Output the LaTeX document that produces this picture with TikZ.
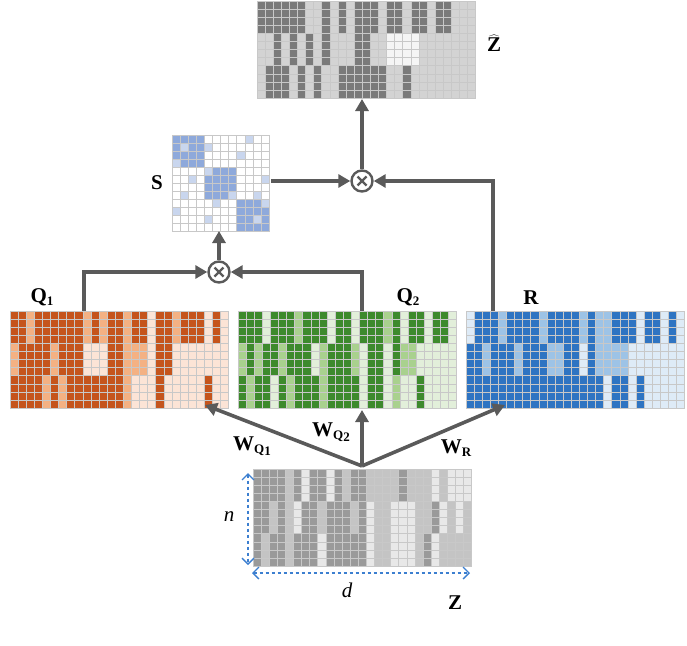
\documentclass[tikz,border=0pt]{standalone}
\usepackage{fontspec}
\setmainfont{Liberation Serif}
\usetikzlibrary{arrows.meta}
\definecolor{ag}{HTML}{5A5A5A}
\definecolor{or0}{HTML}{FCE4D6}\definecolor{or1}{HTML}{F4B183}\definecolor{or2}{HTML}{C5541C}
\definecolor{gr0}{HTML}{E2EFDA}\definecolor{gr1}{HTML}{A9D18E}\definecolor{gr2}{HTML}{3D8A2C}
\definecolor{bl0}{HTML}{DEEBF7}\definecolor{bl1}{HTML}{9DC3E6}\definecolor{bl2}{HTML}{2E74C2}
\definecolor{zh0}{HTML}{F5F5F5}\definecolor{zh1}{HTML}{D3D3D3}\definecolor{zh2}{HTML}{7A7A7A}
\definecolor{zz0}{HTML}{E8E8E8}\definecolor{zz1}{HTML}{C4C4C4}\definecolor{zz2}{HTML}{9A9A9A}
\definecolor{sb}{HTML}{8EA9DB}\definecolor{sl}{HTML}{C9D6EE}
\definecolor{dblue}{HTML}{3C7FD0}
\tikzset{cell/.style={draw={rgb,255:red,200;green,200;blue,200},line width=0.7pt},
 arr/.style={draw=ag,line width=3.6pt,-{Triangle[length=12pt,width=13pt]}},
 mul/.style={circle,draw=ag,line width=2.4pt,minimum size=21pt,inner sep=0pt},
 lab/.style={font=\bfseries\fontsize{21}{24}\selectfont},
 dim/.style={dblue,dashed,line width=1.3pt,{Straight Barb[length=6pt]}-{Straight Barb[length=6pt]}}}
\newcommand\band[4]{\foreach \v [count=\i from 0] in {#4}{\foreach \r in {0,...,3}{\draw[cell,fill=#3\v] ({#1+\i*8.1},{#2+\r*8.1}) rectangle +(8.1,8.1);}}}
\newcommand\mygrid[6]{\band{#1}{#2}{#3}{#4}\band{#1}{#2+32.4}{#3}{#5}\band{#1}{#2+64.8}{#3}{#6}}
\newcommand\xmark[1]{\draw[ag,line width=2.2pt] ([shift={(-4.5pt,-4.5pt)}]#1.center) -- ([shift={(4.5pt,4.5pt)}]#1.center) ([shift={(-4.5pt,4.5pt)}]#1.center) -- ([shift={(4.5pt,-4.5pt)}]#1.center);}
\newcommand\sub[1]{\raisebox{-0.35ex}{\fontsize{13}{14}\selectfont #1}}
\begin{document}
\begin{tikzpicture}[x=1pt,y=-1pt]
\useasboundingbox (0,0) rectangle (687,645);
% Zhat
\mygrid{257}{1}{zh}{2,2,2,2,2,2,1,1,2,1,2,1,2,2,2,1,2,2,1,2,2,1,2,2,1,1,1}{1,1,2,1,2,1,2,1,2,1,1,1,2,2,1,1,0,0,0,0,1,1,1,1,1,1,1}{1,2,2,2,1,2,1,2,1,1,2,2,2,2,2,2,1,1,2,1,1,1,1,1,1,1,1}
% Q1
\mygrid{10}{311}{or}{2,2,1,2,2,2,2,2,2,1,2,1,2,2,1,2,2,0,2,2,1,2,2,2,0,2,0}{1,2,2,2,2,1,2,2,2,0,0,0,2,2,1,1,1,0,2,2,0,0,0,0,0,0,0}{2,2,2,2,1,2,1,2,2,2,2,2,2,2,1,0,0,0,2,0,0,0,0,0,2,0,0}
% Q2
\mygrid{238}{311}{gr}{2,2,2,0,2,2,2,1,2,2,2,0,2,2,0,2,2,2,1,2,0,2,2,0,2,2,0}{1,2,1,2,2,1,2,2,2,0,1,2,2,2,1,0,2,2,0,2,1,1,0,0,0,0,0}{2,1,2,2,0,2,1,2,2,2,1,2,2,2,2,0,2,2,0,1,0,0,2,0,0,0,0}
% R
\mygrid{466}{311}{bl}{0,2,2,2,1,2,2,2,2,1,2,2,2,2,1,2,1,1,2,2,2,0,2,2,0,2,0}{2,2,1,2,2,2,1,2,2,2,1,1,2,2,0,2,1,1,1,1,0,0,0,0,0,0,0}{2,2,2,2,2,2,2,2,2,2,2,2,2,2,2,2,2,0,2,2,0,2,0,0,0,0,0}
% Z
\mygrid{253}{469}{zz}{2,2,2,2,1,2,0,2,2,0,2,1,2,2,1,1,1,1,2,1,1,1,0,1,0,0,0}{2,2,1,2,1,0,2,2,1,2,2,2,1,2,0,1,1,0,0,0,1,1,2,0,1,0,1}{2,1,2,2,1,2,2,2,0,2,2,2,2,2,0,1,1,0,0,0,1,2,0,1,1,1,1}
% S
\foreach \r in {0,...,11}{\foreach \c in {0,...,11}{
 \pgfmathtruncatemacro\br{floor(\r/4)}\pgfmathtruncatemacro\bc{floor(\c/4)}
 \pgfmathtruncatemacro\w{mod(\r*7+\c*5,9)}
 \ifnum\br=\bc \ifnum\w=3 \def\col{sl}\else\def\col{sb}\fi \else \ifnum\w=0 \def\col{sl}\else\def\col{white}\fi\fi
 \draw[cell,fill=\col] ({172+\c*8.1},{135+\r*8.0}) rectangle +(8.1,8.0);}}
% multiply nodes
\node[mul] (m1) at (219,272) {}; \xmark{m1}
\node[mul] (m2) at (362,181) {}; \xmark{m2}
\coordinate (q1top) at (84,311); \coordinate (q2top) at (362,311); \coordinate (rtop) at (493,311);
\coordinate (sbot) at (219,231); \coordinate (sright) at (271,181); \coordinate (zhbot) at (362,99);
\coordinate (zt) at (362,466); \coordinate (q1b) at (205,405); \coordinate (q2b) at (362,410); \coordinate (rb) at (505,405);
\draw[arr] (q1top) |- (m1.west);
\draw[arr] (q2top) |- (m1.east);
\draw[arr] (m1.north) -- (sbot);
\draw[arr] (sright) -- (m2.west);
\draw[arr] (rtop) |- (m2.east);
\draw[arr] (m2.north) -- (zhbot);
\draw[arr] (zt) -- (q1b);
\draw[arr] (zt) -- (q2b);
\draw[arr] (zt) -- (rb);
% dimension arrows
\coordinate (na) at (248,473); \coordinate (nb) at (248,565);
\coordinate (da) at (252,573); \coordinate (db) at (470,573);
\draw[dim] (na) -- (nb);
\draw[dim] (da) -- (db);
% labels
\node[lab] (lq1) at (42,297) {Q\sub{1}};
\node[lab] (lq2) at (408,297) {Q\sub{2}};
\node[lab] (lr) at (531,298) {R};
\node[lab] (ls) at (157,183) {S};
\node[lab] (lzh) at (494,43) {$\widehat{\hbox{\bfseries\fontsize{21}{24}\selectfont Z}}$};
\node[lab] (lw1) at (252,446) {W\sub{Q\sub{1}}};
\node[lab] (lw2) at (331,432) {W\sub{Q\sub{2}}};
\node[lab] (lwr) at (456,448) {W\sub{R}};
\node[font=\fontsize{21}{24}\selectfont\itshape] (ln) at (229,517) {n};
\node[font=\fontsize{21}{24}\selectfont\itshape] (ld) at (347,590) {d};
\node[lab] (lz) at (455,603) {Z};
\end{tikzpicture}
\end{document}
